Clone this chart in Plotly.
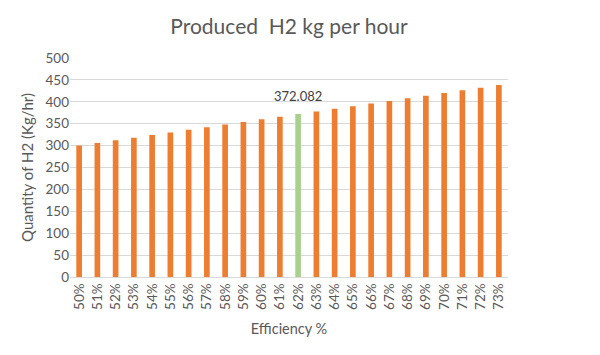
import plotly.graph_objects as go

categories = [f"{p}%" for p in range(50, 74)]
values = [300.07, 306.07, 312.07, 318.07, 324.07, 330.07, 336.08, 342.08, 348.08, 354.08,
          360.08, 366.08, 372.082, 378.08, 384.08, 390.09, 396.09, 402.09, 408.09, 414.09,
          420.09, 426.09, 432.10, 438.10]
highlight = "62%"
highlight_value = values[categories.index(highlight)]

colors = ["#A9D18E" if c == highlight else "#ED7D31" for c in categories]

FONT = "Lato, Open Sans, sans-serif"

fig = go.Figure(go.Bar(
    x=categories, y=values,
    marker=dict(color=colors, line=dict(width=0)),
))

fig.add_annotation(
    x=highlight, y=highlight_value, text=f"{highlight_value:g}",
    showarrow=False, yanchor="bottom", yshift=8,
    font=dict(family=FONT, size=13, color="#404040"),
)

# page body has an 8px margin, so the figure is sized and offset to compensate
fig.update_layout(
    width=592, height=347,
    margin=dict(l=62, r=92, t=50, b=78, autoexpand=False),
    paper_bgcolor="white", plot_bgcolor="white",
    bargap=0.69,
    showlegend=False,
    title=dict(text="Produced  H2 kg per hour", x=0.5, xanchor="center", xref="paper",
               y=1 - 19 / 347, yanchor="middle",
               font=dict(family=FONT, size=21, color="#595959")),
    font=dict(family=FONT, size=13, color="#595959"),
    xaxis=dict(tickangle=-90, showgrid=False, showline=True, linecolor="#D9D9D9",
               ticks="", tickfont=dict(size=13.5),
               title=dict(text="Efficiency %", font=dict(size=14.5), standoff=14)),
    yaxis=dict(range=[0, 500], dtick=50, showgrid=True, gridcolor="#D9D9D9",
               zeroline=False, showline=False, ticks="", tickfont=dict(size=13.5),
               title=dict(text="Quantity of H2 (Kg/hr)", font=dict(size=15), standoff=8)),
)

fig.write_html("out.html")
